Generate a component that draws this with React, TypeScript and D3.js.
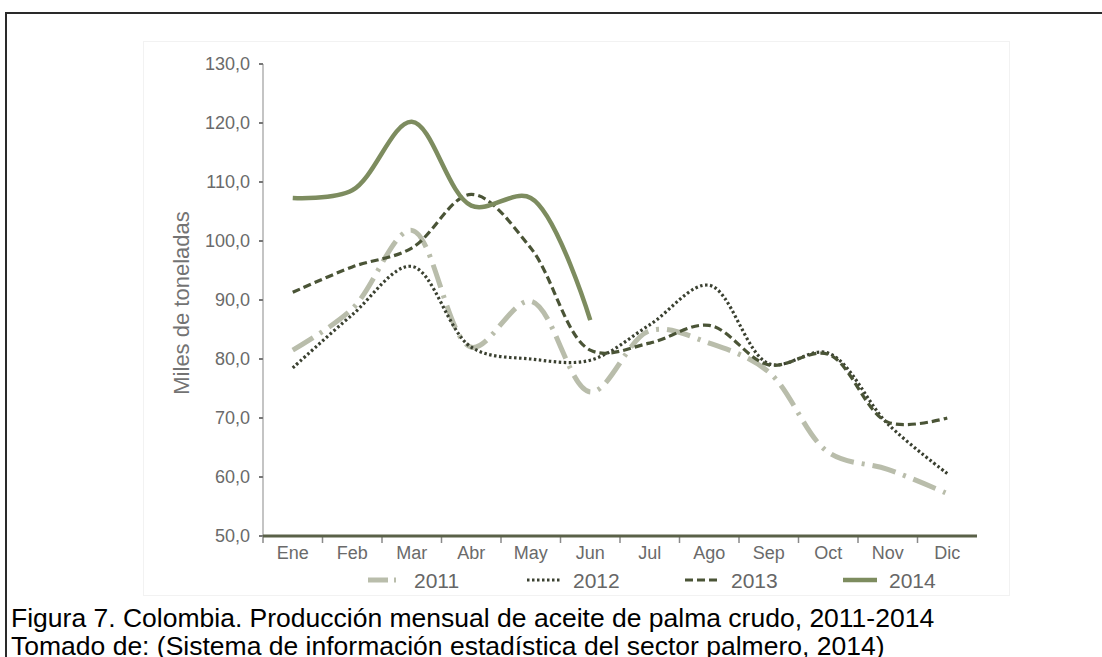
import React from "react";
import * as d3 from "d3";

const months = ["Ene", "Feb", "Mar", "Abr", "May", "Jun", "Jul", "Ago", "Sep", "Oct", "Nov", "Dic"];
const yTicks = [50, 60, 70, 80, 90, 100, 110, 120, 130];
const s2011 = [81.5, 88.5, 101.8, 82.0, 89.8, 74.4, 84.8, 82.7, 77.8, 64.2, 61.3, 57.2];
const s2012 = [78.5, 87.5, 95.7, 82.0, 80.0, 79.8, 85.8, 92.5, 79.2, 81.0, 69.0, 60.6];
const s2013 = [91.3, 95.6, 98.8, 107.9, 98.8, 81.5, 82.7, 85.7, 79.0, 80.8, 69.3, 70.0];
const s2014 = [107.3, 108.6, 120.2, 106.0, 107.3, 86.6];
const seriesNames = ["2011", "2012", "2013", "2014"];

const styles = [
  { color: "#b9bdab", width: 5, dash: "24,8,3,8" },
  { color: "#3a4030", width: 3.2, dash: "2.5,2.5" },
  { color: "#4a5436", width: 3.2, dash: "8,4" },
  { color: "#7d8c5f", width: 4.5, dash: "" },
];

export default function App() {
  const W = 1102, H = 657;
  const x0 = 263, x1 = 977, yTop = 64, yBot = 536;
  const x = d3.scaleBand<string>().domain(months).range([x0, x1]);
  const y = d3.scaleLinear().domain([50, 130]).range([yBot, yTop]);
  const line = d3
    .line<number>()
    .x((_, i) => (x(months[i]) as number) + x.bandwidth() / 2)
    .y((d) => y(d))
    .curve(d3.curveCatmullRom.alpha(0.5));
  const data = [s2011, s2012, s2013, s2014];
  const legendX = [368, 527, 685, 843];
  const font = "'Liberation Sans', Arial, sans-serif";
  return (
    <svg width={W} height={H} style={{ position: "absolute", left: 0, top: 0, background: "#fff" }} fontFamily={font}>
      <path d="M6,700 V13 H1110" fill="none" stroke="#2a2a2a" strokeWidth={2} />
      <rect x={143.5} y={41.5} width={866} height={554} fill="none" stroke="#f2f2f2" strokeWidth={1} />
      {/* y axis */}
      <line x1={x0} x2={x0} y1={yTop} y2={yBot} stroke="#c4c4c4" strokeWidth={2} />
      {yTicks.map((t) => (
        <g key={t}>
          <line x1={x0 - 4} x2={x0} y1={y(t)} y2={y(t)} stroke="#777" strokeWidth={2} />
          <text x={250} y={y(t)} dy="0.35em" textAnchor="end" fontSize={18} fill="#6a6a6a">
            {t.toFixed(1).replace(".", ",")}
          </text>
        </g>
      ))}
      <text
        transform={`translate(181,303) rotate(-90)`}
        textAnchor="middle"
        dy="0.35em"
        fontSize={22}
        fill="#737373"
      >
        Miles de toneladas
      </text>
      {/* x axis */}
      {months.map((m) => (
        <g key={m}>
          <line
            x1={x(m) as number}
            x2={x(m) as number}
            y1={yBot}
            y2={yBot + 7}
            stroke="#8a8a8a"
            strokeWidth={1.5}
          />
          <text
            x={(x(m) as number) + x.bandwidth() / 2}
            y={559}
            textAnchor="middle"
            fontSize={18}
            fill="#6a6a6a"
          >
            {m}
          </text>
        </g>
      ))}
      <line x1={x0} x2={x1} y1={yBot} y2={yBot} stroke="#5a6148" strokeWidth={3} />
      {/* series */}
      {data.map((d, k) => (
        <path
          key={k}
          d={line(d) as string}
          fill="none"
          stroke={styles[k].color}
          strokeWidth={styles[k].width}
          strokeDasharray={styles[k].dash || undefined}
        />
      ))}
      {/* legend */}
      {seriesNames.map((n, k) => (
        <g key={n}>
          <line
            x1={legendX[k]}
            x2={legendX[k] + 34}
            y1={580}
            y2={580}
            stroke={styles[k].color}
            strokeWidth={styles[k].width}
            strokeDasharray={k === 0 ? "20,6,2,6" : styles[k].dash || undefined}
          />
          <text x={legendX[k] + 46} y={580} dy="0.36em" fontSize={21} fill="#666">
            {n}
          </text>
        </g>
      ))}
      {/* caption */}
      <text x={11} y={627} fontSize={26.5} fill="#000">
        Figura 7. Colombia. Producción mensual de aceite de palma crudo, 2011-2014
      </text>
      <text x={11} y={655} fontSize={26.5} fill="#000">
        Tomado de: (Sistema de información estadística del sector palmero, 2014)
      </text>
    </svg>
  );
}
